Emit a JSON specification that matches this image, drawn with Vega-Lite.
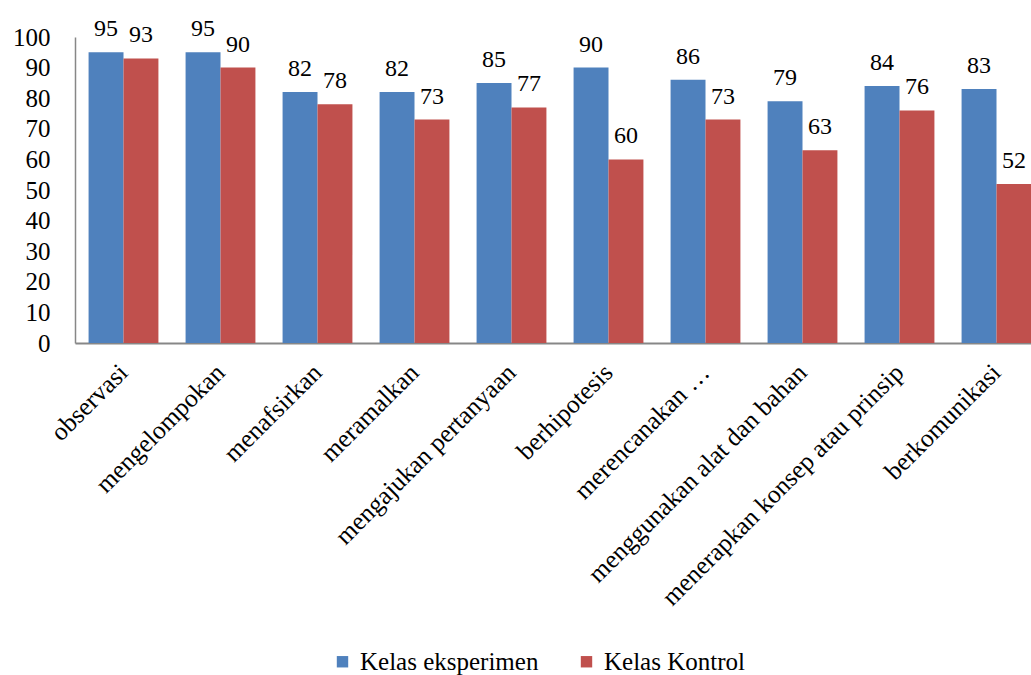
{
  "$schema": "https://vega.github.io/schema/vega-lite/v6.json",
  "autosize": {"type": "none"},
  "padding": {"left": 75, "top": 37, "right": 0, "bottom": 332},
  "width": 970,
  "height": 306,
  "background": "white",
  "config": {
    "view": {"stroke": null},
    "font": "Liberation Serif",
    "text": {"font": "Liberation Serif"},
    "axis": {"labelFont": "Liberation Serif", "labelColor": "#000000", "domainColor": "#878787", "domainWidth": 2, "grid": false, "ticks": false, "tickSize": 0, "title": null},
    "legend": {"labelFont": "Liberation Serif", "labelColor": "#000000"}
  },
  "data": {
    "values": [
      {"kategori": "observasi", "kelas": "Kelas eksperimen", "nilai": 95},
      {"kategori": "observasi", "kelas": "Kelas Kontrol", "nilai": 93},
      {"kategori": "mengelompokan", "kelas": "Kelas eksperimen", "nilai": 95},
      {"kategori": "mengelompokan", "kelas": "Kelas Kontrol", "nilai": 90},
      {"kategori": "menafsirkan", "kelas": "Kelas eksperimen", "nilai": 82},
      {"kategori": "menafsirkan", "kelas": "Kelas Kontrol", "nilai": 78},
      {"kategori": "meramalkan", "kelas": "Kelas eksperimen", "nilai": 82},
      {"kategori": "meramalkan", "kelas": "Kelas Kontrol", "nilai": 73},
      {"kategori": "mengajukan pertanyaan", "kelas": "Kelas eksperimen", "nilai": 85},
      {"kategori": "mengajukan pertanyaan", "kelas": "Kelas Kontrol", "nilai": 77},
      {"kategori": "berhipotesis", "kelas": "Kelas eksperimen", "nilai": 90},
      {"kategori": "berhipotesis", "kelas": "Kelas Kontrol", "nilai": 60},
      {"kategori": "merencanakan …", "kelas": "Kelas eksperimen", "nilai": 86},
      {"kategori": "merencanakan …", "kelas": "Kelas Kontrol", "nilai": 73},
      {"kategori": "menggunakan alat dan bahan", "kelas": "Kelas eksperimen", "nilai": 79},
      {"kategori": "menggunakan alat dan bahan", "kelas": "Kelas Kontrol", "nilai": 63},
      {"kategori": "menerapkan konsep atau prinsip", "kelas": "Kelas eksperimen", "nilai": 84},
      {"kategori": "menerapkan konsep atau prinsip", "kelas": "Kelas Kontrol", "nilai": 76},
      {"kategori": "berkomunikasi", "kelas": "Kelas eksperimen", "nilai": 83},
      {"kategori": "berkomunikasi", "kelas": "Kelas Kontrol", "nilai": 52}
    ]
  },
  "encoding": {
    "x": {
      "field": "kategori", "type": "nominal", "sort": null,
      "scale": {"paddingInner": 0.28, "paddingOuter": 0.14},
      "axis": {"labelAngle": -45, "labelAlign": "right", "labelBaseline": "middle", "labelFontSize": 25.5, "labelPadding": 25, "labelLimit": 500}
    },
    "xOffset": {"field": "kelas", "type": "nominal", "sort": ["Kelas eksperimen", "Kelas Kontrol"], "scale": {"paddingInner": 0, "paddingOuter": 0}},
    "y": {
      "field": "nilai", "type": "quantitative",
      "scale": {"domain": [0, 100], "nice": false},
      "axis": {"values": [0, 10, 20, 30, 40, 50, 60, 70, 80, 90, 100], "labelFontSize": 25, "labelPadding": 25, "domainWidth": 1.5}
    }
  },
  "layer": [
    {
      "mark": {"type": "bar"},
      "encoding": {
        "color": {
          "field": "kelas", "type": "nominal",
          "sort": ["Kelas eksperimen", "Kelas Kontrol"],
          "scale": {"domain": ["Kelas eksperimen", "Kelas Kontrol"], "range": ["#4F81BD", "#C0504D"]},
          "legend": {"title": null, "orient": "none", "direction": "horizontal", "legendX": 255, "legendY": 612, "symbolType": "square", "symbolSize": 130, "symbolStrokeWidth": 0, "labelFontSize": 25, "labelLimit": 400, "columnPadding": 35, "labelOffset": 5}
        }
      }
    },
    {
      "mark": {"type": "text", "baseline": "alphabetic", "dy": -16, "fontSize": 24, "color": "#000000", "font": "Liberation Serif"},
      "encoding": {"text": {"field": "nilai", "type": "quantitative"}}
    }
  ]
}
